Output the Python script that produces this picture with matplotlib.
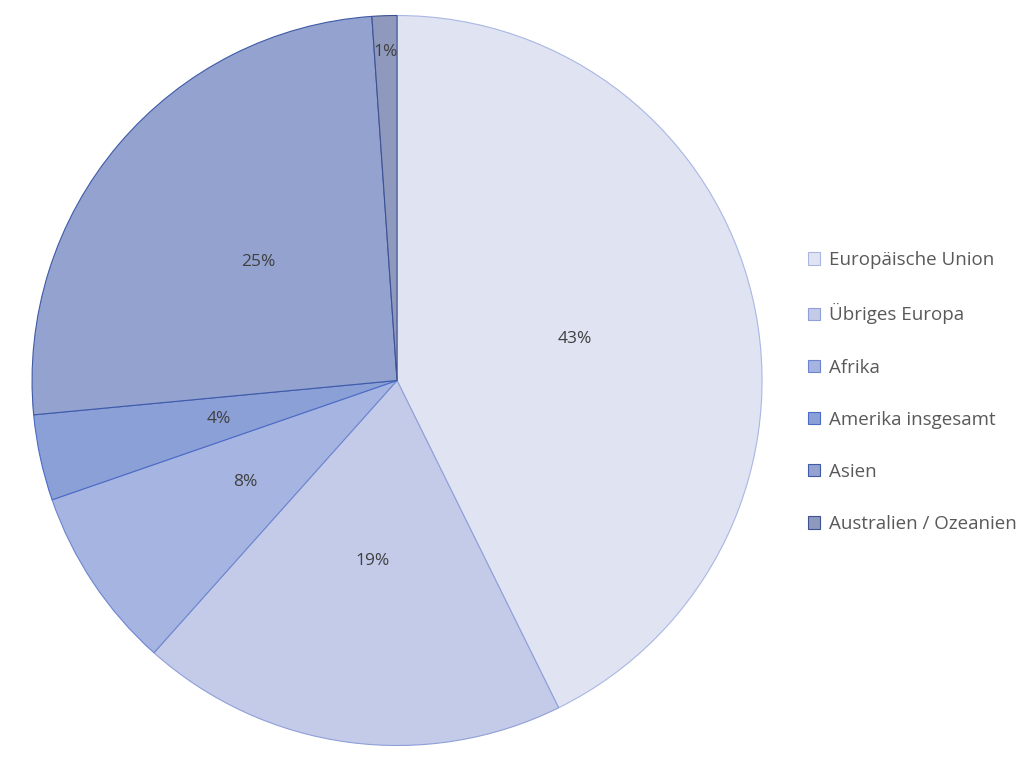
import matplotlib
matplotlib.use("Agg")
import matplotlib.pyplot as plt
import numpy as np

categories = ["Europäische Union", "Übriges Europa", "Afrika", "Amerika insgesamt", "Asien", "Australien / Ozeanien"]
values = [42.7, 18.9, 8.1, 3.8, 25.4, 1.1]
colors = ["#dfe3f2", "#c3cbe9", "#a5b4e0", "#8ca0d8", "#93a2cf", "#8e99bd"]
edges = ["#a9b7e3", "#8f9fd8", "#6d85cf", "#4a6bc6", "#3e5aa8", "#3e5293"]

plt.rcParams['font.family'] = ['Open Sans', 'DejaVu Sans']
fig = plt.figure(figsize=(10.34, 7.61), dpi=100)
ax = fig.add_axes([0.384 - 0.353, 0.5 - 0.4797, 0.706, 0.9594])
wedges, texts, autotexts = ax.pie(values, colors=colors, startangle=90, counterclock=False,
                                  autopct=lambda p: f"{p:.0f}%", pctdistance=0.5,
                                  wedgeprops=dict(linewidth=0.8),
                                  textprops=dict(color="#404040", fontsize=12.5))
for w, e in zip(wedges, edges):
    w.set_edgecolor(e)
t = autotexts[-1]
x, y = t.get_position()
r = np.hypot(x, y)
t.set_position((x / r * 0.9, y / r * 0.9))
ax.set_aspect('equal')
ax.set_xlim(-1, 1); ax.set_ylim(-1, 1)

leg = fig.legend(wedges, categories, loc="upper left", bbox_to_anchor=(0.765, 0.692),
                 frameon=False, fontsize=13.5, labelspacing=1.82, handlelength=0.65,
                 handleheight=0.65, handletextpad=0.45, labelcolor="#595959")
fig.savefig("out.png", dpi=100)
